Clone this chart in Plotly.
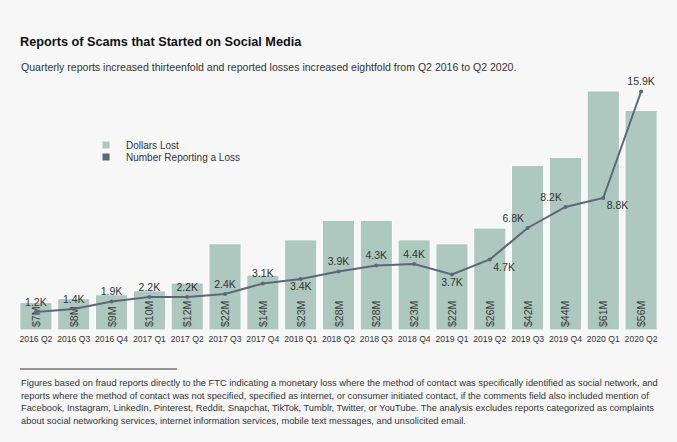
import plotly.graph_objects as go

quarters = ["2016 Q2", "2016 Q3", "2016 Q4", "2017 Q1", "2017 Q2", "2017 Q3", "2017 Q4",
            "2018 Q1", "2018 Q2", "2018 Q3", "2018 Q4", "2019 Q1", "2019 Q2", "2019 Q3",
            "2019 Q4", "2020 Q1", "2020 Q2"]
dollars_lost_m = [7, 8, 9, 10, 12, 22, 14, 23, 28, 28, 23, 22, 26, 42, 44, 61, 56]
reports_k = [1.2, 1.4, 1.9, 2.2, 2.2, 2.4, 3.1, 3.4, 3.9, 4.3, 4.4, 3.7, 4.7, 6.8, 8.2, 8.8, 15.9]
report_label_pos = ["top center", "top center", "top center", "top center", "top center",
                    "top center", "top center", "bottom center", "top center", "top center",
                    "top center", "bottom center", "bottom right", "top left", "top left",
                    "bottom right", "top center"]

title_text = "Reports of Scams that Started on Social Media"
subtitle_text = ("Quarterly reports increased thirteenfold and reported losses increased "
                 "eightfold from Q2 2016 to Q2 2020.")
footnote_lines = [
    "Figures based on fraud reports directly to the FTC indicating a monetary loss where the method of contact was specifically identified as social network, and",
    "reports where the method of contact was not specified, specified as internet, or consumer initiated contact, if the comments field also included mention of",
    "Facebook, Instagram, LinkedIn, Pinterest, Reddit, Snapchat, TikTok, Tumblr, Twitter, or YouTube. The analysis excludes reports categorized as complaints",
    "about social networking services, internet information services, mobile text messages, and unsolicited email.",
]

W, H = 677, 442
L, R, T, B = 17, 17, 80, 112
PW, PH = W - L - R, H - T - B
FONT = "Liberation Sans, Arial, Helvetica, sans-serif"
TXT = "#333333"
BAR_C = "#adc8be"
LINE_C = "#5e6678"
BG = "#f7f7f7"


def px(x):
    return (x - L) / PW


def py(y):
    return (H - B - y) / PH


fig = go.Figure()
fig.add_trace(go.Bar(
    x=quarters, y=dollars_lost_m, name="Dollars Lost", showlegend=False,
    marker=dict(color=BAR_C, line=dict(color="#ffffff", width=1)),
    text=[f"${v}M" for v in dollars_lost_m], textposition="inside",
    insidetextanchor="start", textangle=-90, constraintext="none",
    textfont=dict(family=FONT, size=10.5, color="#3a3a3a"), cliponaxis=False,
))
fig.add_trace(go.Scatter(
    x=quarters, y=reports_k, name="Number Reporting a Loss", yaxis="y2",
    mode="lines+markers+text", showlegend=False,
    line=dict(color=LINE_C, width=2), marker=dict(color=LINE_C, size=4),
    text=[f"{v}K" for v in reports_k], textposition=report_label_pos,
    textfont=dict(family=FONT, size=10.5, color=TXT), cliponaxis=False,
))
# legend entries
fig.add_trace(go.Scatter(x=[None], y=[None], mode="markers", name="Dollars Lost",
                         marker=dict(symbol="square", size=7, color=BAR_C), legend="legend"))
fig.add_trace(go.Scatter(x=[None], y=[None], mode="markers", name="Number Reporting a Loss",
                         marker=dict(symbol="square", size=7, color=LINE_C), legend="legend2"))

legend_common = dict(bgcolor="rgba(0,0,0,0)", font=dict(family=FONT, size=10, color=TXT),
                     xanchor="left", yanchor="middle", itemwidth=30,
                     tracegroupgap=0)

annotations = [
    dict(text=subtitle_text, xref="paper", yref="paper", x=px(19), y=py(67),
         xanchor="left", yanchor="middle", showarrow=False,
         font=dict(family=FONT, size=10.55, color=TXT)),
]
for i, line in enumerate(footnote_lines):
    annotations.append(dict(text=line, xref="paper", yref="paper", x=px(19), y=py(383 + 12.7 * i),
                            xanchor="left", yanchor="middle", showarrow=False,
                            font=dict(family=FONT, size=9.3, color=TXT)))

fig.update_layout(
    width=W, height=H, margin=dict(l=L, r=R, t=T, b=B),
    paper_bgcolor=BG, plot_bgcolor=BG,
    font=dict(family=FONT, color=TXT),
    title=dict(text=f"<b>{title_text}</b>", xref="container", yref="container",
               x=20 / W, y=1 - 42 / H, xanchor="left", yanchor="middle",
               font=dict(family=FONT, size=12.7, color="#111111")),
    bargap=0.15,
    xaxis=dict(showgrid=False, zeroline=False, showline=False, ticks="",
               range=[-0.5, len(quarters) - 0.5], fixedrange=True,
               tickfont=dict(family=FONT, size=8.6, color=TXT), ticklabelstandoff=2),
    yaxis=dict(range=[0, PH / 3.92], visible=False, fixedrange=True),
    yaxis2=dict(range=[0, PH / 15.0], visible=False, overlaying="y", fixedrange=True),
    legend=dict(x=px(86), y=py(145), **legend_common),
    legend2=dict(x=px(86), y=py(157), **legend_common),
    annotations=annotations,
    shapes=[dict(type="line", xref="paper", yref="paper", x0=px(20), x1=px(177),
                 y0=py(369), y1=py(369), line=dict(color="#333333", width=1))],
)

fig.write_html("out.html", config={"displayModeBar": False},
               post_script="document.body.style.margin='0px';")
